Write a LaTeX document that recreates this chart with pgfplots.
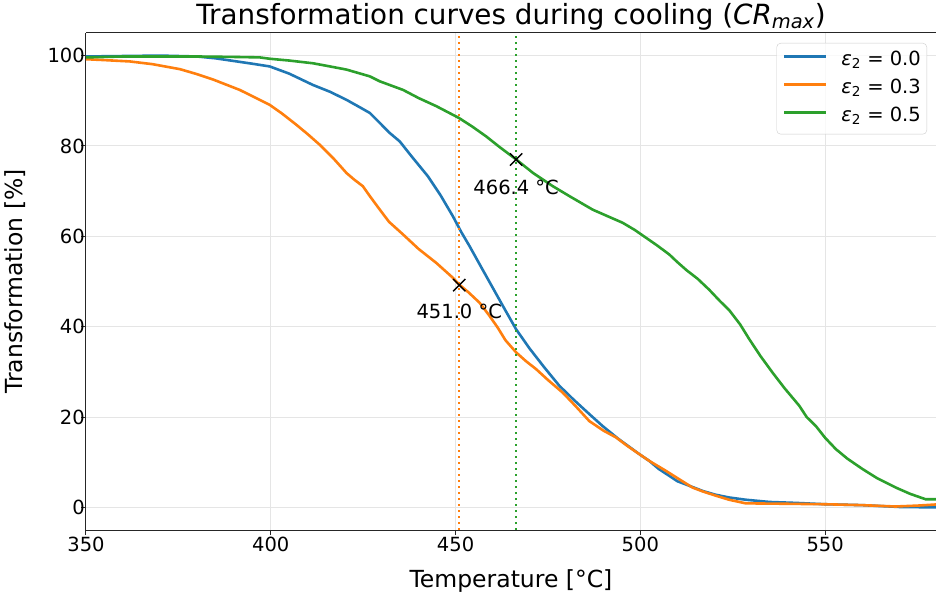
\documentclass[border=0pt]{standalone}
\usepackage{fontspec}
\setmainfont{DejaVu Sans}
\usepackage{pgfplots}
\pgfplotsset{compat=1.18}

\definecolor{C0}{HTML}{1F77B4}
\definecolor{C1}{HTML}{FF7F0E}
\definecolor{C2}{HTML}{2CA02C}

\newcommand{\fs}{\fontsize{19.5}{23}\selectfont}

\begin{document}
\begin{tikzpicture}[font=\fs]
\begin{axis}[
  name=ax,
  scale only axis,
  width=850pt, height=497pt,
  xmin=350, xmax=580, ymin=-5, ymax=105,
  xtick={350,400,450,500,550},
  ytick={0,20,40,60,80,100},
  axis x line*=box, axis y line*=left,
  xtick pos=bottom, ytick pos=left,
  tick align=outside,
  major tick length=5pt,
  axis line style={black!85, line width=1pt},
  tick style={black!85, line width=1pt},
  grid=major,
  major grid style={gray!20, line width=1pt},
  /pgf/number format/assume math mode=true,
  tick label style={font=\fs, inner sep=0pt},
  xticklabel style={anchor=north, yshift=-2pt},
  yticklabel style={anchor=east, xshift=4pt},
  legend style={at={(axis description cs:1,1)}, anchor=north east,
    xshift=-9pt, yshift=-10pt, draw=black!20, rounded corners=4pt,
    fill=white, fill opacity=0.8, text opacity=1, font=\fs,
    inner xsep=6pt, inner ysep=8pt, row sep=9pt, column sep=14pt,
    nodes={inner sep=0pt, text height=14pt, text depth=5pt}},
  legend cell align=left,
  legend image code/.code={\draw[#1] (0pt,4pt) -- (42pt,4pt);},
]
\addplot[C0, line width=2.6pt] coordinates {
  (350,99.8) (360,99.9) (370,100) (380,99.8) (385,99.4) (390,98.8)
  (395,98.2) (399.7,97.6) (405,96.0) (411.4,93.5) (416,92.0) (420.5,90.2)
  (424,88.6) (426.8,87.3) (429.5,85.1) (432,83.0) (434.9,81.0) (438,77.8)
  (442.5,73.3) (446,69.0) (449.3,64.4) (451.5,61.0) (453.8,57.8) (457.4,52.5)
  (460,48.7) (463,44.3) (466.4,39.4) (470,35.2) (474,31.0) (478.1,26.9)
  (482,23.8) (486,20.8) (489.8,18.0) (494,15.2) (499.7,11.8) (502.4,10.3)
  (505,8.5) (507.8,7.0) (510,5.8) (513.2,4.8) (517,3.6) (520.4,2.8)
  (524,2.2) (528.5,1.7) (535,1.2) (542,1.0) (550,0.7) (560,0.5) (570,0.1) (580,0.0)
};
\addlegendentry{{\itshape ε}\textsubscript{2} = 0.0}
\addplot[C1, line width=2.6pt] coordinates {
  (350,99.2) (355,99.0) (361.9,98.7) (368,98.1) (375.4,97.0) (380,95.9)
  (384.4,94.7) (391.6,92.4) (399.7,89.1) (403,87.2) (406.9,84.7) (410,82.6)
  (413.2,80.3) (417,77.2) (420.5,74.0) (422.5,72.6) (424.9,71.1) (426.8,68.9)
  (429.5,65.9) (432,63.2) (435.8,60.4) (440,57.2) (444.8,54.1) (449.3,50.8)
  (451,49.3) (453.5,47.6) (456.5,45.3) (459,42.6) (461.4,39.8) (463.5,37.0)
  (466.4,34.3) (469,32.4) (471.8,30.6) (475,28.2) (479,25.4) (482.5,22.4)
  (486.2,19.1) (490,17.0) (493.4,15.5) (496.5,13.6) (499.7,11.8) (502.4,10.3)
  (506.9,8.1) (510,6.5) (514.1,4.4) (517,3.5) (520.4,2.6) (524,1.7)
  (528.5,0.9) (540,0.8) (550,0.7) (560,0.5) (569,0.2) (575,0.4) (580,0.65)
};
\addlegendentry{{\itshape ε}\textsubscript{2} = 0.3}
\addplot[C2, line width=2.6pt] coordinates {
  (350,99.6) (360,99.8) (370,99.8) (380,99.8) (390,99.7) (397,99.6)
  (399.7,99.3) (405,98.9) (411.4,98.3) (416,97.6) (420.5,96.9) (426.8,95.4)
  (429.5,94.3) (435.8,92.4) (440,90.6) (444.8,88.8) (450.9,86.2) (454.5,84.3)
  (458.3,82.1) (462,79.7) (466.4,77.0) (471,74.0) (476.3,71.1) (481,68.8)
  (487.1,65.9) (491,64.5) (495.2,63.0) (498.5,61.4) (501.5,59.7) (504.5,58.0)
  (507.8,56.0) (510,54.3) (512.5,52.5) (515.5,50.6) (518.6,48.2) (521.5,45.7)
  (524.1,43.6) (527,40.5) (529.5,37.2) (532.5,33.5) (535.8,29.8) (539,26.4)
  (543,22.5) (545,20.0) (547.5,18.0) (550,15.4) (552.9,12.9) (556,10.8)
  (560.1,8.5) (564,6.5) (569.1,4.4) (573,3.0) (577.2,1.8) (580,1.8)
};
\addlegendentry{{\itshape ε}\textsubscript{2} = 0.5}
\addplot[C1, line width=2pt, dash pattern=on 2pt off 4pt, forget plot]
  coordinates {(451.0,-5) (451.0,105)};
\addplot[C2, line width=2pt, dash pattern=on 2pt off 4pt, forget plot]
  coordinates {(466.4,-5) (466.4,105)};
\addplot[only marks, mark=x, mark size=8.7pt, black, line width=1.5pt, forget plot]
  coordinates {(451.0,49.2) (466.4,77.0)};
\node[inner sep=0pt] at (axis cs:466.4,70.9) {466.4 °C};
\node[inner sep=0pt] at (axis cs:451.0,43.3) {451.0 °C};
\end{axis}
\node[anchor=base, font=\fontsize{27.8}{32}\selectfont] at ([yshift=8pt]ax.north)
  {Transformation curves during cooling (\textit{CR}\textsubscript{\textit{max}})};
\node[anchor=base, font=\fontsize{23.5}{27}\selectfont] at ([yshift=-57pt]ax.south)
  {Temperature [°C]};
\node[anchor=base, rotate=90, font=\fontsize{23.5}{27}\selectfont] at ([xshift=-63pt]ax.west)
  {Transformation [\%]};
\pgfresetboundingbox
\path[use as bounding box] ([xshift=-86pt,yshift=-64pt]ax.south west) rectangle ([yshift=33pt]ax.north east);
\end{tikzpicture}
\end{document}
